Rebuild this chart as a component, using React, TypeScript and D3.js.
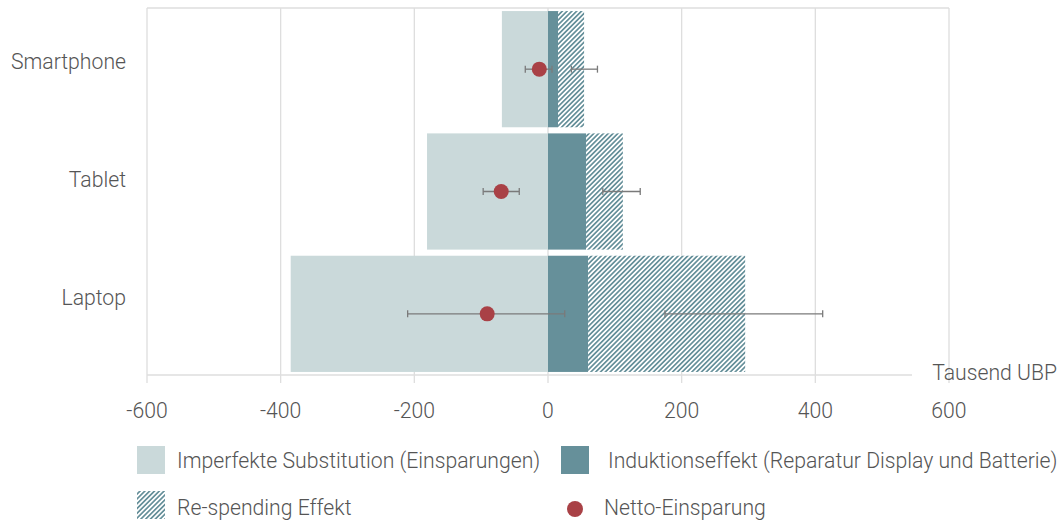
import React from "react";
import * as d3 from "d3";

// values in Tausend UBP
const categories = ["Smartphone", "Tablet", "Laptop"];
const substitution = [-69, -181, -385];
const induction = [15, 57, 60];
const respending = [39, 55, 235];
const net = [-13, -70, -91];
const netLow = [-34, -97, -210];
const netHigh = [6, -43, 25];
const respLow = [35, 82, 175];
const respHigh = [74, 138, 411];
const ticks = [-600, -400, -200, 0, 200, 400, 600];

const LIGHT = "#cad9da";
const DARK = "#66909a";
const RED = "#a94146";
const GRID = "#dedede";
const TEXT = "#555";
const FONT = "Roboto, 'Liberation Sans', sans-serif";
const FS = 21.2;

export default function App() {
  const width = 1060;
  const height = 525;
  const axisY = 375;

  const x = d3.scaleLinear().domain([-600, 600]).range([147, 949]);
  const y = d3
    .scaleBand<string>()
    .domain(categories)
    .range([8, axisY])
    .paddingInner(0.05)
    .paddingOuter(0.025);
  // labels sit a little above the bar centres, and slightly tighter
  const yLabel = d3.scalePoint<string>().domain(categories).range([63, 299]);

  const bw = y.bandwidth();

  const errorBar = (lo: number, hi: number, cy: number, key: string) => (
    <g key={key} stroke="#7a7a7a" strokeWidth={1.3}>
      <line x1={x(lo)} x2={x(hi)} y1={cy} y2={cy} />
      <line x1={x(lo)} x2={x(lo)} y1={cy - 3.5} y2={cy + 3.5} />
      <line x1={x(hi)} x2={x(hi)} y1={cy - 3.5} y2={cy + 3.5} />
    </g>
  );

  const txt = {
    fontSize: FS,
    fontWeight: 300,
    fill: TEXT,
    dominantBaseline: "middle" as const,
  };

  return (
    <svg
      width={width}
      height={height}
      style={{ position: "absolute", left: 0, top: 0, background: "#fff" }}
      fontFamily={FONT}
    >
      <defs>
        <pattern
          id="hatch"
          width={3.4}
          height={3.4}
          patternUnits="userSpaceOnUse"
          patternTransform="rotate(45)"
        >
          <rect width={3.4} height={3.4} fill="#ffffff" />
          <rect width={1.7} height={3.4} fill={DARK} />
        </pattern>
      </defs>

      {/* grid */}
      <line x1={x(-600)} x2={x(600)} y1={8} y2={8} stroke={GRID} strokeWidth={1.5} />
      {ticks.map((t) => (
        <line key={"g" + t} x1={x(t)} x2={x(t)} y1={8} y2={axisY + 8} stroke={GRID} strokeWidth={1.3} />
      ))}
      <line x1={x(-600)} x2={912} y1={axisY} y2={axisY} stroke={GRID} strokeWidth={1.5} />

      {/* bars */}
      {categories.map((c, i) => {
        const y0 = y(c)!;
        const indEnd = induction[i];
        const resEnd = induction[i] + respending[i];
        return (
          <g key={c}>
            <rect x={x(substitution[i])} y={y0} width={x(0) - x(substitution[i])} height={bw} fill={LIGHT} />
            <rect x={x(0)} y={y0} width={x(indEnd) - x(0)} height={bw} fill={DARK} />
            <rect x={x(indEnd)} y={y0} width={x(resEnd) - x(indEnd)} height={bw} fill="url(#hatch)" />
          </g>
        );
      })}

      {/* error bars and net dots */}
      {categories.map((c, i) => {
        const cy = y(c)! + bw / 2;
        return (
          <g key={"e" + c}>
            {errorBar(respLow[i], respHigh[i], cy, "r" + c)}
            {errorBar(netLow[i], netHigh[i], cy, "n" + c)}
            <circle cx={x(net[i])} cy={cy} r={7.5} fill={RED} />
          </g>
        );
      })}

      {/* category labels */}
      {categories.map((c) => (
        <text key={"l" + c} x={126} y={yLabel(c)!} textAnchor="end" {...txt}>
          {c}
        </text>
      ))}

      {/* tick labels */}
      {ticks.map((t) => (
        <text key={"t" + t} x={x(t)} y={412} textAnchor="middle" {...txt}>
          {t}
        </text>
      ))}
      <text x={1057} y={374} textAnchor="end" {...txt}>
        Tausend UBP
      </text>

      {/* legend */}
      <rect x={137} y={446} width={28} height={28} fill={LIGHT} />
      <text x={177} y={462} {...txt}>
        Imperfekte Substitution (Einsparungen)
      </text>
      <rect x={561} y={446} width={28} height={28} fill={DARK} />
      <text x={608} y={462} {...txt}>
        Induktionseffekt (Reparatur Display und Batterie)
      </text>
      <rect x={137} y={491} width={28} height={28} fill="url(#hatch)" />
      <text x={177} y={509} {...txt}>
        Re-spending Effekt
      </text>
      <circle cx={575} cy={509} r={8} fill={RED} />
      <text x={604} y={509} {...txt}>
        Netto-Einsparung
      </text>
    </svg>
  );
}
